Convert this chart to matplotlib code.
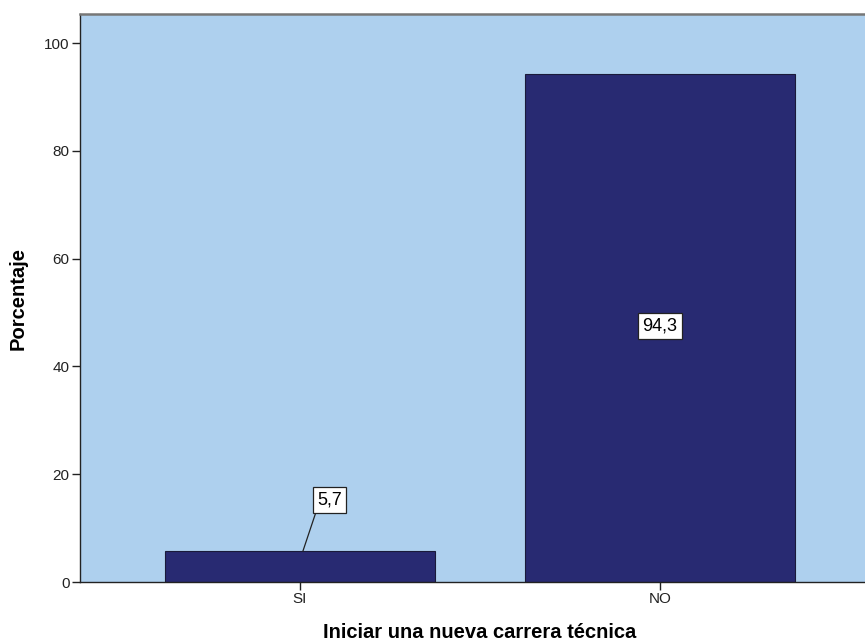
import matplotlib
matplotlib.use('Agg')
import matplotlib.pyplot as plt

plt.rcParams['font.family'] = ['Liberation Sans', 'DejaVu Sans']

categorias = ['SI', 'NO']
porcentajes = [5.7, 94.3]
etiquetas = ['5,7', '94,3']

fig = plt.figure(figsize=(8.65, 6.42), dpi=100)
# el area del grafico sigue un poco mas alla del borde derecho, como en el original
ax = fig.add_axes([80/865, 60/642, 800/865, 568/642])
ax.set_facecolor('#AED0EE')

x = list(range(len(categorias)))
ax.bar(x, porcentajes, width=0.75, color='#282A72', edgecolor='#1a1a3a', linewidth=0.8, zorder=2)

ax.set_xlim(-0.611, 1.611)
ax.set_ylim(0, 105.4)
ax.set_yticks([0, 20, 40, 60, 80, 100])
ax.set_xticks(x)
ax.set_xticklabels(categorias)
ax.tick_params(axis='both', labelsize=11, length=6, width=1, pad=1.5, colors='#222222')

for s in ['left', 'bottom']:
    ax.spines[s].set_color('#222222')
    ax.spines[s].set_linewidth(1)
ax.spines['top'].set_color('#777777')
ax.spines['top'].set_linewidth(1.8)
ax.spines['right'].set_visible(False)

bbox = dict(boxstyle='square,pad=0.25', fc='white', ec='#222222', lw=0.9)
# SI: etiqueta encima de la barra con linea guia
ax.annotate(etiquetas[0], xy=(x[0] + 0.008, porcentajes[0]), xytext=(x[0] + 0.082, 15.2),
            ha='center', va='center', fontsize=13, bbox=bbox,
            arrowprops=dict(arrowstyle='-', color='#222222', lw=0.9, shrinkA=0, shrinkB=0,
                            relpos=(0.0, 0.0)))
# NO: etiqueta en el centro de la barra
ax.text(x[1], porcentajes[1] / 2 + 0.3, etiquetas[1], ha='center', va='center', fontsize=13, bbox=bbox)

ax.set_ylabel('Porcentaje', fontsize=14.5, fontweight='bold', labelpad=12)
ax.set_xlabel('Iniciar una nueva carrera técnica', fontsize=14.5, fontweight='bold', labelpad=12)

fig.savefig('out.png', dpi=100)
